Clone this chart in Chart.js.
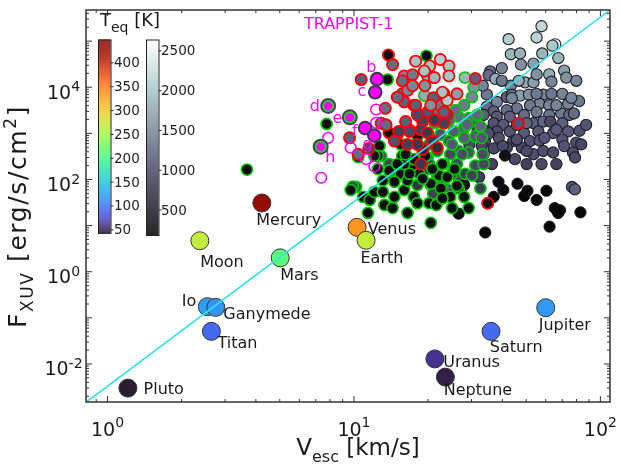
<!DOCTYPE html>
<html>
<head>
<meta charset="utf-8">
<script src="https://cdn.jsdelivr.net/npm/chart.js@4.4.0/dist/chart.umd.min.js"></script>
<style>
  html, body { margin: 0; padding: 0; background: #fff; }
  #chart { display: block; }
</style>
</head>
<body>
<canvas id="chart" width="620" height="474"></canvas>
<script>
// ---- solar system bodies ----
var solarNames = ['Mercury', 'Venus', 'Earth', 'Moon', 'Mars', 'Io', 'Ganymede', 'Titan', 'Pluto', 'Jupiter', 'Saturn', 'Uranus', 'Neptune'];
var solarVesc  = [4.23, 10.3, 11.2, 2.37, 5.02, 2.54, 2.75, 2.64, 1.21, 60.0, 36.0, 21.3, 23.5];
var solarFxuv  = [31, 9.2, 4.8, 4.7, 2.0, 0.175, 0.169, 0.051, 0.0030, 0.166, 0.051, 0.0129, 0.0052];
var solarTeq   = [440, 335, 270, 270, 215, 125, 120, 95, 47, 122, 95, 62, 50];

// ---- TRAPPIST-1 ----
var trappistNames = ['b', 'c', 'd', 'e', 'f', 'g', 'h'];
var trappistVesc  = [12.4, 12.2, 7.86, 9.62, 11.1, 12.1, 7.33];
var trappistFxuv  = [15000, 7800, 3930, 2230, 1300, 894, 514];
var trappistInHZ  = [false, false, true, true, false, false, true];
var trappistAltVesc = [12.3, 12.3, 7.86, 9.70, 11.2, 12.1, 7.37];
var trappistAltFxuv = [3300, 1690, 798, 490, 277, 192, 109];

// ---- exoplanets: bone face, dark edge ----
var grayVesc = [57.7, 42.4, 55.1, 65.6, 63.9, 43.3, 47.2, 58.1, 47.6, 53.5, 35.7, 35.2, 37.5, 62, 71.3, 72.7, 43.3, 49.5, 53.5, 46.6,
  63.3, 41.7, 43.7, 47.2, 51.3, 58.6, 63.3, 70.1, 38, 34.6, 56.6, 62, 74, 81.9, 51.8, 45.8, 41.7, 36.9, 33.6, 38,
  42.9, 49, 55.1, 62, 69.4, 74.8, 36.9, 40.4, 53.5, 58.6, 62.6, 70.1, 82.3, 33.6, 38, 42.9, 49, 56, 64.3, 74,
  34, 38.7, 44.3, 51.8, 56.6, 70.1, 79.8, 33, 36.9, 41.7, 48, 53.5, 58.6, 64.3, 77.4, 78.9, 33.6, 50.2, 32.2, 76.7,
  78.8, 30.4, 29.4, 31.6, 34.6, 39.8, 33.3, 26.7, 24.2, 35.2, 45.8, 50.2, 66.3, 59.3, 45.8, 40.2, 50.2, 71.3, 45,
  36.3, 57.7, 66.3, 43.7, 55.1, 66.3, 78.1, 83.6, 39.8, 55.1, 79.8, 67.5, 87.5, 76.2];
var grayFxuv = [210000, 110000, 120000, 85000, 80000, 52000, 54000, 54000, 31000, 32500, 22000, 18300, 15200, 19000, 23000, 16200, 10800, 12700, 12700, 13800,
  13200, 6100, 6900, 6600, 6900, 6900, 7200, 7200, 4800, 3800, 4400, 4070, 4400, 5000, 4070, 3500, 3180, 3000, 2500, 2300,
  2300, 2500, 2900, 2500, 2700, 2500, 1660, 1530, 1660, 1800, 1800, 1660, 1140, 1200, 1100, 1100, 1020, 1100, 1020, 1100,
  680, 800, 680, 680, 700, 735, 630, 530, 470, 490, 490, 353, 415, 385, 385, 300, 353, 216, 113, 69,
  61, 1660, 576, 1020, 7000, 26000, 10800, 104, 58, 1000, 1530, 1660, 1200, 800, 735, 530, 415, 530, 276,
  216, 216, 216, 5800, 7200, 4070, 2700, 576, 13800, 19000, 13800, 43000, 1530, 5900];
var grayTeq = [2200, 2100, 2150, 2550, 2050, 1900, 1850, 1900, 1600, 1700, 1350, 1300, 1800, 1800, 1700, 1600, 1500, 1800, 1700, 1800,
  1500, 1200, 1300, 1700, 1600, 1500, 1400, 1500, 1500, 1300, 1500, 1500, 1500, 1400, 1400, 1400, 1300, 1200, 1200, 1150,
  1200, 1300, 1400, 1350, 1400, 1300, 1100, 1150, 1200, 1250, 1000, 1200, 1100, 1100, 1050, 1100, 1150, 1150, 1200, 1150,
  1000, 1050, 1050, 1100, 1100, 1100, 1050, 1000, 1000, 950, 1000, 1050, 1050, 1000, 1050, 1000, 900, 900, 900, 1100,
  1200, 1050, 1000, 1050, 1400, 1500, 1500, 1000, 1100, 1050, 1150, 1250, 1150, 1100, 1050, 1000, 1000, 1100, 1000,
  950, 1000, 950, 1500, 1400, 1500, 1300, 1000, 1400, 1600, 1500, 1900, 1100, 1500];

// ---- exoplanets: black face, dark edge ----
var darkVesc = [34.1, 62.2, 26.6, 36.9, 40.4, 38.6, 46.1, 49.1, 50.6, 60.4, 55.1, 65.3, 67.4, 68.6, 83, 41, 28];
var darkFxuv = [7.1, 9.5, 18.2, 42, 59, 89, 81, 44, 57, 57, 36, 24, 18.8, 21.5, 19.4, 330, 76];
var darkTeq  = [250, 250, 300, 300, 300, 300, 300, 250, 300, 300, 280, 250, 250, 260, 250, 350, 350];

// ---- exoplanets: green edge, black face ----
var greenDarkVesc = [3.68, 7.75, 19.7, 13.7, 12.7, 12.5, 15.7, 17.3, 13.9, 15.5, 13.1, 9.7, 10.9, 11.6, 12.1, 13.1, 14.6, 16, 17.5, 20.5,
  22.5, 24.6, 20.2, 13.3, 11.4, 14.6, 16.5, 18.4, 22.2, 23.9, 17.5, 18.1, 21.6, 20.5, 28, 29.2, 16, 16.8, 16.2, 18.1,
  15.5, 10.4, 12.1, 22.85, 25.6, 19.5, 20.8, 26.2, 15, 19, 22.85, 14.35, 12.5, 25, 16.5];
var greenDarkFxuv = [164, 1600, 48000, 14700, 530, 325, 325, 185, 156, 133, 95, 59, 42, 36, 54, 54, 42, 59, 42, 81,
  64, 42, 30.6, 28, 18.8, 89, 95, 133, 122, 113, 276, 30.6, 28, 11.5, 42, 24, 216, 133, 353, 870,
  576, 305, 325, 216, 169, 320, 169, 73, 216, 104, 39, 24, 169, 24, 18.8];
var greenDarkTeq = [300, 300, 300, 300, 320, 300, 300, 280, 300, 300, 280, 280, 260, 260, 280, 280, 280, 300, 280, 300,
  300, 280, 280, 260, 260, 280, 300, 300, 300, 300, 320, 260, 260, 250, 280, 260, 320, 300, 320, 340,
  330, 300, 320, 330, 320, 330, 320, 300, 300, 280, 260, 260, 300, 260, 260];

// ---- exoplanets: green edge, bone face ----
var greenGrayVesc = [28.2, 30.6, 19.3, 28, 30.1, 26.6, 29.2, 31.6, 32.6, 28, 25.4, 22.4, 24.3, 28, 31.1, 33, 26.6, 29.2, 24.6, 21.8,
  19.9, 17.5, 23.2, 26.2, 28.3, 31.1, 33.6, 25, 21.8, 19.3, 22.85, 20.5, 18.1, 32.6, 26.6, 10.2, 14.2, 12.9, 20.2, 13.9,
  9.9, 23.1, 21.3, 24.4, 25, 28.8, 21.8, 25.8, 20.2, 19, 23.5, 27.5, 21, 30.1, 33.3];
var greenGrayFxuv = [16200, 10000, 6600, 4070, 6100, 2300, 2150, 2500, 1430, 1300, 1100, 940, 680, 800, 860, 800, 415, 385, 353, 415,
  300, 255, 216, 216, 133, 200, 216, 133, 122, 156, 76, 76, 76, 64, 64, 69, 120, 320, 216, 216,
  70, 3200, 1660, 1950, 576, 1530, 2500, 3200, 576, 353, 104, 353, 50, 122, 353];
var greenGrayTeq = [1900, 1600, 1800, 1400, 1500, 1300, 1250, 1250, 1250, 1150, 1150, 1050, 1050, 1150, 1150, 1100, 1050, 1050, 950, 950,
  950, 850, 950, 950, 850, 950, 950, 850, 850, 850, 850, 750, 750, 850, 750, 950, 950, 1050, 950, 950,
  950, 1300, 1250, 1250, 1100, 1200, 1300, 1300, 1000, 950, 900, 1000, 900, 900, 1000];

// ---- exoplanets: red edge, bone face ----
var redVesc = [13.8, 14.35, 17.8, 22.4, 20.3, 24.3, 16, 17.3, 19.9, 21.2, 24.3, 19.4, 19.3, 23.2, 26.2, 31.1, 15.7, 16.5, 16, 17.5,
  18.1, 19.9, 22.2, 23.9, 23.2, 21.2, 19, 16.8, 18.7, 19.9, 20.8, 19, 18.7, 15, 10.7, 23.9, 22.85, 13.4, 12.9, 16.2,
  14.6, 13.9, 14.6, 9.6, 10.4, 46.5, 34.9, 15.2, 11.5, 15.7, 21, 17.3, 15, 17.8, 20.5, 23.2, 18.1, 16.8, 21.8, 18.1, 13.5, 16.5];
var redFxuv = [50000, 31000, 36700, 40000, 28800, 28800, 17600, 18700, 17600, 16200, 17600, 10800, 22500, 7200, 7200, 15500, 7200, 8500, 4800, 4070,
  2700, 2900, 4070, 2500, 1660, 1950, 1800, 1200, 1200, 1020, 680, 451, 216, 940, 14700, 5200, 7800, 3500, 1660, 1800,
  870, 1020, 680, 800, 353, 1660, 30.6, 1100, 470, 13800, 5900, 10800, 6100, 4070, 4070, 2900, 2500, 1100, 490, 576, 1530, 576];
var redTeq = [300, 1300, 2000, 2100, 2000, 2000, 1500, 1400, 1800, 1900, 2000, 1600, 2000, 1800, 1700, 1200, 1400, 1500, 1200, 1100,
  1100, 1100, 1400, 1000, 900, 800, 900, 900, 900, 800, 800, 600, 800, 700, 1200, 2100, 2000, 1300, 1300, 1200,
  1000, 300, 1100, 1200, 1300, 1100, 300, 900, 1000, 1300, 1200, 1500, 1300, 1200, 1600, 1200, 1000, 1000, 700, 800, 1300, 900];

// ---- reference line and axes ----
var lineVesc = [0.8, 110];
var lineFxuv = [0.00135, 483000];
var xTickPowers = [0, 1, 2];
var yTickPowers = [-2, 0, 2, 4];
var teqTicks = [50, 100, 150, 200, 250, 300, 350, 400];
var teqHotTicks = [500, 1000, 1500, 2000, 2500];

// label offsets in pixels (dx, dy from the marker)
var solarLabelDx = [-5.6, 10.7, -5.6, 0.3, 0, -25.6, 7.6, 6, 15.7, -7, -1.3, 8.3, -1.6];
var solarLabelDy = [17.7, 3, 18.7, 21.6, 18.3, -5, 7.6, 12.7, 1.7, 18, 16, 4.4, 14];
var trappistLabelDx = [-5.7, -13.3, -13.3, -12.4, -10.4, -6.7, 9.6];
var trappistLabelDy = [-11.6, 0, 1, 1.7, 3.4, 9.7, 11];

var FONT = "'DejaVu Sans', Verdana, sans-serif";
var COLD_MIN = 44, COLD_MAX = 449, HOT_MIN = 186, HOT_MAX = 2643;

function clamp01(t) { return Math.max(0, Math.min(1, t)); }
function rgb(r, g, b) {
  return 'rgb(' + Math.round(clamp01(r) * 255) + ',' + Math.round(clamp01(g) * 255) + ',' + Math.round(clamp01(b) * 255) + ')';
}
function turbo(t) {
  t = clamp01(t);
  var r = 0.13572138 + t * (4.61539260 + t * (-42.66032258 + t * (132.13108234 + t * (-152.94239396 + t * 59.28637943))));
  var g = 0.09140261 + t * (2.19418839 + t * (4.84296658 + t * (-14.18503333 + t * (4.27729857 + t * 2.82956604))));
  var b = 0.10667330 + t * (12.64194608 + t * (-60.58204836 + t * (110.36276771 + t * (-89.90310912 + t * 27.34824973))));
  return rgb(r, g, b);
}
function bone(t) {
  t = clamp01(t);
  var r = t < 0.746032 ? t * 0.652778 / 0.746032 : 0.652778 + (t - 0.746032) / 0.253968 * 0.347222;
  var g = t < 0.365079 ? t * 0.319444 / 0.365079 :
          t < 0.746032 ? 0.319444 + (t - 0.365079) / 0.380953 * 0.458334 :
          0.777778 + (t - 0.746032) / 0.253968 * 0.222222;
  var b = t < 0.365079 ? t * 0.444444 / 0.365079 : 0.444444 + (t - 0.365079) / 0.634921 * 0.555556;
  return rgb(r, g, b);
}
function coldColor(T) { return turbo((T - COLD_MIN) / (COLD_MAX - COLD_MIN)); }
function hotColor(T) { return bone((T - HOT_MIN) / (HOT_MAX - HOT_MIN)); }
function pts(vx, vy) { return vx.map(function (v, i) { return { x: v, y: vy[i] }; }); }
function pick(arr, mask, want) { return arr.filter(function (v, i) { return mask[i] === want; }); }

function scatterSet(vx, vy, faces, edge, edgeW, radius, order) {
  return {
    data: pts(vx, vy),
    pointBackgroundColor: faces,
    pointBorderColor: edge,
    pointBorderWidth: edgeW,
    pointRadius: radius,
    order: order
  };
}

var datasets = [
  { type: 'line', data: pts(lineVesc, lineFxuv), borderColor: '#2fe3f2', borderWidth: 1.6, pointRadius: 0, order: 0 },
  scatterSet(solarVesc, solarFxuv, solarTeq.map(coldColor), '#333', 1, 9, 1),
  scatterSet(pick(trappistVesc, trappistInHZ, false), pick(trappistFxuv, trappistInHZ, false), '#ff00ff', '#3b3b4c', 2, 6.3, 1),
  scatterSet(pick(trappistVesc, trappistInHZ, true), pick(trappistFxuv, trappistInHZ, true), '#ff00ff', 'rgba(0,0,0,0)', 0, 4.3, 1),
  scatterSet(pick(trappistVesc, trappistInHZ, true), pick(trappistFxuv, trappistInHZ, true), '#2bd02b', '#45455a', 2, 7, 2),
  scatterSet(trappistAltVesc, trappistAltFxuv, 'rgba(0,0,0,0)', '#ff00ff', 1.5, 5.3, 2),
  scatterSet(redVesc, redFxuv, redTeq.map(hotColor), '#ff0000', 1.8, 5.6, 3),
  scatterSet(greenDarkVesc, greenDarkFxuv, greenDarkTeq.map(hotColor), '#00c800', 1.6, 5.6, 4),
  scatterSet(greenGrayVesc, greenGrayFxuv, greenGrayTeq.map(hotColor), '#00c800', 1.6, 5.6, 5),
  scatterSet(darkVesc, darkFxuv, darkTeq.map(hotColor), '#151518', 1, 5.6, 6),
  scatterSet(grayVesc, grayFxuv, grayTeq.map(hotColor), '#1d1d26', 1.1, 5.6, 7)
];

function drawSup(ctx, base, sup, x, y, bSize, sSize, rise, align) {
  ctx.font = bSize + 'px ' + FONT;
  var wb = ctx.measureText(base).width;
  ctx.font = sSize + 'px ' + FONT;
  var ws = ctx.measureText(sup).width;
  var start = align === 'center' ? x - (wb + ws) / 2 : x;
  ctx.textAlign = 'left';
  ctx.textBaseline = 'alphabetic';
  ctx.font = bSize + 'px ' + FONT;
  ctx.fillText(base, start, y);
  ctx.font = sSize + 'px ' + FONT;
  ctx.fillText(sup, start + wb, y - rise);
}

function drawColorbar(ctx, x, top, bottom, w, lo, hi, cmap, ticks, labelX) {
  for (var py = top; py < bottom; py++) {
    var t = 1 - (py - top) / (bottom - top);
    ctx.fillStyle = cmap(t);
    ctx.fillRect(x, py, w, 1.2);
  }
  ctx.strokeStyle = '#222';
  ctx.lineWidth = 1;
  ctx.strokeRect(x + 0.5, top + 0.5, w, bottom - top);
  ctx.fillStyle = '#222';
  ctx.font = '13.5px ' + FONT;
  ctx.textAlign = 'left';
  ctx.textBaseline = 'middle';
  ticks.forEach(function (v) {
    var py = bottom - (v - lo) / (hi - lo) * (bottom - top);
    ctx.beginPath();
    ctx.moveTo(x + w, py);
    ctx.lineTo(x + w + 3, py);
    ctx.stroke();
    ctx.fillText(String(v), labelX, py + 1);
  });
}

var decor = {
  id: 'decor',
  afterDatasetsDraw: function (chart) {
    var ctx = chart.ctx, xs = chart.scales.x, ys = chart.scales.y, a = chart.chartArea;
    ctx.save();

    // frame
    ctx.strokeStyle = '#333';
    ctx.lineWidth = 1.5;
    ctx.strokeRect(a.left, a.top, a.right - a.left, a.bottom - a.top);

    // ticks (inward, all four sides)
    ctx.lineWidth = 1;
    ctx.beginPath();
    for (var d = -1; d <= 2; d++) {
      for (var m = 1; m <= 9; m++) {
        var v = m * Math.pow(10, d);
        if (v < xs.min || v > xs.max) continue;
        var px = xs.getPixelForValue(v), len = m === 1 ? 6 : 3;
        ctx.moveTo(px, a.bottom); ctx.lineTo(px, a.bottom - len);
        ctx.moveTo(px, a.top); ctx.lineTo(px, a.top + len);
      }
    }
    for (d = -3; d <= 5; d++) {
      for (m = 1; m <= 9; m++) {
        v = m * Math.pow(10, d);
        if (v < ys.min || v > ys.max) continue;
        var py = ys.getPixelForValue(v); len = m === 1 ? 6 : 3;
        ctx.moveTo(a.left, py); ctx.lineTo(a.left + len, py);
        ctx.moveTo(a.right, py); ctx.lineTo(a.right - len, py);
      }
    }
    ctx.stroke();

    // tick labels
    ctx.fillStyle = '#1a1a1a';
    xTickPowers.forEach(function (p) {
      drawSup(ctx, '10', String(p), xs.getPixelForValue(Math.pow(10, p)), 436, 19, 14, 9, 'center');
    });
    yTickPowers.forEach(function (p) {
      drawSup(ctx, '10', String(p), 63.5, ys.getPixelForValue(Math.pow(10, p)) + 11.5, 19, 14, 7.5, 'center');
    });

    // axis titles
    ctx.font = '23px ' + FONT;
    var w1 = ctx.measureText('V').width, w3 = ctx.measureText(' [km/s]').width;
    ctx.font = '16px ' + FONT;
    var w2 = ctx.measureText('esc').width;
    var sx = 358 - (w1 + w2 + w3) / 2;
    ctx.textAlign = 'left';
    ctx.textBaseline = 'alphabetic';
    ctx.font = '23px ' + FONT; ctx.fillText('V', sx, 455);
    ctx.font = '16px ' + FONT; ctx.fillText('esc', sx + w1, 462);
    ctx.font = '23px ' + FONT; ctx.fillText(' [km/s]', sx + w1 + w2, 455);

    ctx.save();
    ctx.translate(26, 216.5);
    ctx.rotate(-Math.PI / 2);
    ctx.letterSpacing = '1.6px';
    var parts = [['F', 25, 0], ['XUV', 17, 7], [' [erg/s/cm', 25, 0], ['2', 17, -10], [']', 25, 0]];
    var total = 0;
    parts.forEach(function (p) { ctx.font = p[1] + 'px ' + FONT; total += ctx.measureText(p[0]).width; });
    var cx = -total / 2;
    parts.forEach(function (p) {
      ctx.font = p[1] + 'px ' + FONT;
      ctx.fillText(p[0], cx, p[2]);
      cx += ctx.measureText(p[0]).width;
    });
    ctx.restore();

    // solar system labels
    ctx.fillStyle = '#1a1a1a';
    ctx.font = '16px ' + FONT;
    ctx.textAlign = 'left';
    ctx.textBaseline = 'middle';
    solarNames.forEach(function (n, i) {
      ctx.fillText(n, xs.getPixelForValue(solarVesc[i]) + solarLabelDx[i], ys.getPixelForValue(solarFxuv[i]) + solarLabelDy[i]);
    });

    // TRAPPIST-1 labels
    ctx.fillStyle = '#ff00ff';
    ctx.textAlign = 'center';
    ctx.font = '16px ' + FONT;
    ctx.fillText('TRAPPIST-1', 348.7, 25);
    trappistNames.forEach(function (n, i) {
      ctx.fillText(n, xs.getPixelForValue(trappistVesc[i]) + trappistLabelDx[i], ys.getPixelForValue(trappistFxuv[i]) + trappistLabelDy[i]);
    });

    // colour bars
    drawColorbar(ctx, 98, 39.5, 232.7, 12.5, COLD_MIN, COLD_MAX, turbo, teqTicks, 114);
    drawColorbar(ctx, 146, 39.5, 235, 12.5, HOT_MIN, HOT_MAX, bone, teqHotTicks, 161);
    ctx.fillStyle = '#1a1a1a';
    ctx.textAlign = 'left';
    ctx.textBaseline = 'alphabetic';
    ctx.font = '18px ' + FONT; ctx.fillText('T', 100, 26);
    var tw = ctx.measureText('T').width;
    ctx.font = '14px ' + FONT; ctx.fillText('eq', 100 + tw, 32);
    var ew = ctx.measureText('eq').width;
    ctx.font = '18px ' + FONT; ctx.fillText(' [K]', 100 + tw + ew, 26);

    ctx.restore();
  }
};

new Chart(document.getElementById('chart'), {
  type: 'scatter',
  data: { datasets: datasets },
  options: {
    responsive: false,
    animation: false,
    events: [],
    layout: { padding: { left: 86, right: 6, top: 2, bottom: 72 } },
    plugins: { legend: { display: false }, tooltip: { enabled: false } },
    scales: {
      x: { type: 'logarithmic', display: false, min: 0.818, max: 109.4 },
      y: { type: 'logarithmic', display: false, min: 0.0015, max: 473000 }
    }
  },
  plugins: [decor]
});
</script>
</body>
</html>
